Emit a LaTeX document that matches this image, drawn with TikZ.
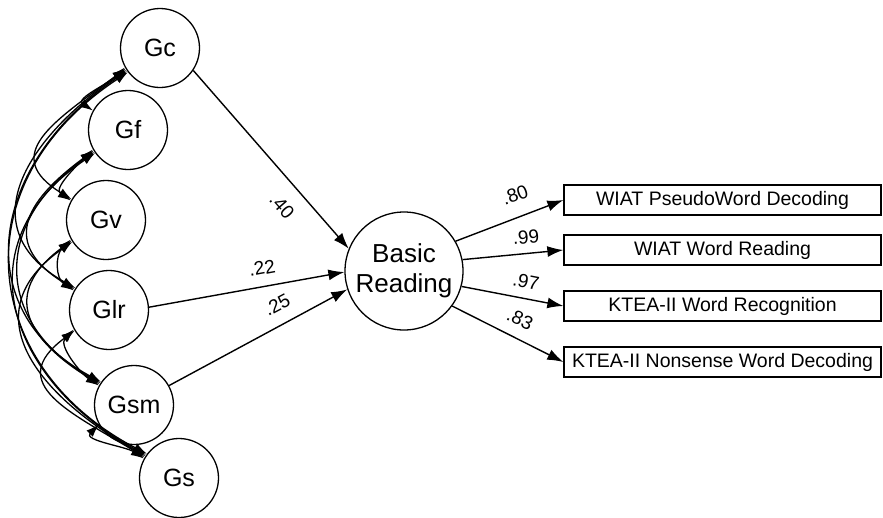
\documentclass[tikz,border=0pt]{standalone}
\usepackage{fontspec}
\setmainfont{Liberation Sans}
\usetikzlibrary{arrows.meta}
\begin{document}
\begin{tikzpicture}[x=1pt,y=1pt,
  factor/.style={circle, draw, line width=1.3pt, minimum size=79pt, inner sep=0pt,
    font=\fontsize{25}{28}\selectfont},
  outcome/.style={circle, draw, line width=1.3pt, minimum size=118pt, inner sep=0pt,
    align=center, font=\fontsize{26}{30}\selectfont},
  indicator/.style={draw, line width=1.3pt, minimum width=317pt, minimum height=30pt,
    inner sep=0pt, font=\fontsize{19.5}{22}\selectfont},
  regpath/.style={line width=1.4pt, -{Latex[length=16pt,width=11pt]}},
  cov/.style={line width=1.3pt, {Latex[length=13pt,width=9pt]}-{Latex[length=13pt,width=9pt]}},
  coef/.style={font=\fontsize{19}{21}\selectfont, inner sep=0pt}
]
\fill[white] (0,0) rectangle (883,-517);
\useasboundingbox (0,0) rectangle (883,-517);

% broad abilities
\node[factor] (Gc)  at (160,-48)  {Gc};
\node[factor] (Gf)  at (128,-130) {Gf};
\node[factor] (Gv)  at (106,-220) {Gv};
\node[factor] (Glr) at (109,-310) {Glr};
\node[factor] (Gsm) at (134,-405) {Gsm};
\node[factor] (Gs)  at (179,-478) {Gs};

% reading factor
\node[outcome] (BR) at (404,-271) {Basic\\Reading};

% observed tests
\node[indicator] (b1) at (722.5,-200) {WIAT PseudoWord Decoding};
\node[indicator] (b2) at (722.5,-250) {WIAT Word Reading};
\node[indicator] (b3) at (722.5,-306) {KTEA-II Word Recognition};
\node[indicator] (b4) at (722.5,-362) {KTEA-II Nonsense Word Decoding};

% structural paths
\draw[regpath] (Gc.-34) -- (BR.158);
\draw[regpath] (Glr.4) -- (BR.181);
\draw[regpath] (Gsm.29) -- (BR.198);
\node[coef, rotate=-49] (l40) at (282,-206) {.40};
\node[coef, rotate=10.6] (l22) at (262,-268) {.22};
\node[coef, rotate=28] (l25) at (277,-305) {.25};

% loadings
\draw[regpath] (BR.30)  -- (b1.west);
\draw[regpath] (BR.11)  -- (b2.west);
\draw[regpath] (BR.-15) -- (b3.west);
\draw[regpath] (BR.-36) -- (b4.west);
\node[coef, rotate=20]  (l80) at (515,-195) {.80};
\node[coef, rotate=5]   (l99) at (526,-237) {.99};
\node[coef, rotate=-11] (l97) at (526,-282) {.97};
\node[coef, rotate=-25] (l83) at (520,-319) {.83};

% correlations among the broad abilities
\foreach \a/\b/\k in {Gc/Gv/2, Gc/Glr/3, Gc/Gsm/4, Gc/Gs/5,
                      Gf/Glr/2, Gf/Gsm/3, Gf/Gs/4,
                      Gv/Gsm/2, Gv/Gs/3,
                      Glr/Gs/2} {
  \pgfmathsetmacro\h{40+32*(\k-1)}
  \pgfmathsetmacro\sa{207+2*\k}
  \pgfmathsetmacro\ea{153-2*\k}
  \draw[cov] (\a.\sa) .. controls +({-\h},{-0.6*\h-10}) and +({-\h},{0.45*\h+12}) .. (\b.\ea);
}
% neighbouring pairs
\foreach \a/\b in {Gc/Gf, Gf/Gv, Gv/Glr, Glr/Gsm, Gsm/Gs} {
  \draw[cov] (\a.209) .. controls +(-16,-16) and +(-18,12) .. (\b.151);
}
\end{tikzpicture}
\end{document}
